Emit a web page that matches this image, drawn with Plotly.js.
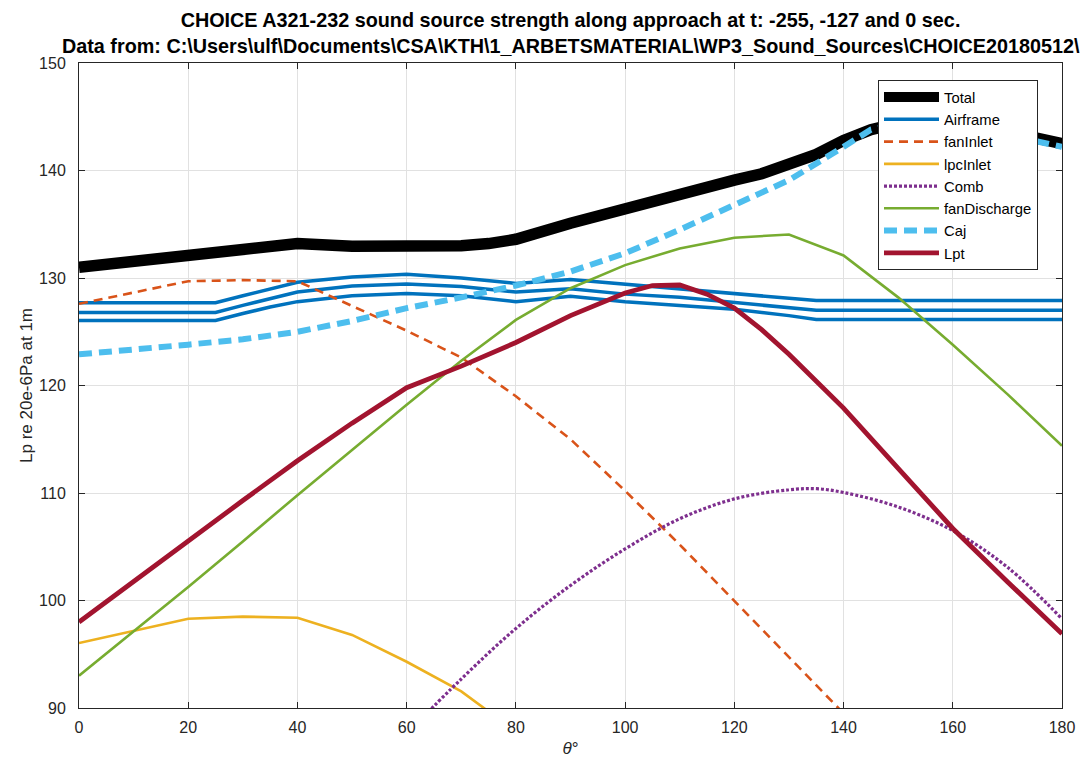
<!DOCTYPE html>
<html>
<head>
<meta charset="utf-8">
<script src="https://cdn.plot.ly/plotly-3.0.1.min.js"></script>
<style>
  html, body { margin: 0; padding: 0; background: #fff; }
  #chart { width: 1086px; height: 763px; }
</style>
</head>
<body>
<div id="chart"></div>
<script>
// Directivity angle (deg) and source levels (dB re 20e-6 Pa at 1 m)
const thetaTotal = [0, 10, 20, 25, 30, 40, 50, 60, 70, 75, 80, 90, 100, 110, 120, 125, 130, 135, 140, 145, 150, 160, 170, 180];
const total = [131.0, 131.6, 132.2, 132.3, 132.7, 133.2, 132.95, 132.85, 133.0, 133.2, 133.6, 135.1, 136.5, 137.8, 139.1, 139.7, 140.6, 141.5, 142.8, 143.8, 144.4, 144.4, 143.6, 142.5];

const thetaAirframe = [0, 25, 30, 35, 40, 50, 60, 70, 80, 90, 100, 110, 120, 130, 135, 180];
const airframeT1 = [127.7, 127.7, 128.35, 129.0, 129.6, 130.1, 130.35, 130.0, 129.5, 129.85, 129.4, 129.0, 128.55, 128.1, 127.9, 127.9];
const airframeT2 = [126.8, 126.8, 127.45, 128.1, 128.7, 129.25, 129.45, 129.2, 128.7, 129.0, 128.5, 128.2, 127.75, 127.25, 127.0, 127.0];
const airframeT3 = [126.05, 126.05, 126.7, 127.3, 127.8, 128.35, 128.55, 128.35, 127.8, 128.3, 127.8, 127.45, 127.1, 126.5, 126.15, 126.15];

const thetaFanInlet = [0, 20, 30, 40, 50, 60, 70, 80, 90, 100, 110, 120, 130, 140];
const fanInlet = [127.6, 129.7, 129.8, 129.7, 127.4, 125.1, 122.6, 119.0, 115.0, 110.2, 105.2, 100.0, 94.8, 89.5];

const thetaLpcInlet = [0, 20, 30, 40, 50, 60, 70, 80];
const lpcInlet = [96.05, 98.3, 98.5, 98.4, 96.8, 94.3, 91.55, 87.8];

const thetaComb = [60, 70, 80, 90, 100, 110, 120, 130, 135, 140, 150, 160, 170, 180];
const comb = [87.6, 92.7, 97.4, 101.4, 104.8, 107.6, 109.45, 110.3, 110.4, 110.05, 108.7, 106.5, 103.1, 98.3];

const thetaFanDischarge = [0, 10, 20, 30, 40, 50, 60, 70, 80, 90, 100, 110, 120, 130, 140, 150, 160, 170, 180];
const fanDischarge = [93.0, 97.1, 101.25, 105.5, 109.8, 114.0, 118.2, 122.3, 126.1, 129.05, 131.2, 132.75, 133.75, 134.05, 132.1, 128.2, 123.8, 119.2, 114.4];

const thetaCaj = [0, 10, 20, 30, 40, 50, 60, 70, 80, 90, 100, 110, 120, 130, 140, 145, 150, 160, 170, 180];
const caj = [122.9, 123.3, 123.8, 124.3, 125.0, 126.0, 127.2, 128.2, 129.3, 130.6, 132.3, 134.5, 136.8, 139.1, 142.2, 143.8, 144.3, 144.2, 143.3, 142.2];

const thetaLpt = [0, 10, 20, 30, 40, 50, 60, 70, 80, 90, 100, 105, 110, 115, 120, 125, 130, 140, 150, 160, 170, 180];
const lpt = [98.0, 101.8, 105.6, 109.3, 113.0, 116.5, 119.8, 121.8, 124.0, 126.5, 128.6, 129.3, 129.35, 128.5, 127.2, 125.2, 122.9, 117.9, 112.3, 106.7, 101.75, 96.9];

const titleLine1 = 'CHOICE A321-232 sound source strength along approach at t: -255, -127 and 0 sec.';
const titleLine2 = 'Data from: C:\\Users\\ulf\\Documents\\CSA\\KTH\\1_ARBETSMATERIAL\\WP3_Sound_Sources\\CHOICE20180512\\';

const FONT = 'Liberation Sans, Arial, Helvetica, sans-serif';
const AXIS_COLOR = '#262626';

function line(x, y, name, color, width, dash, extra) {
  return Object.assign({
    x: x, y: y, name: name, type: 'scatter', mode: 'lines',
    line: { color: color, width: width, dash: dash || 'solid' },
    legendgroup: name, hoverinfo: 'x+y+name'
  }, extra || {});
}

const traces = [
  line(thetaTotal, total, 'Total', '#000000', 11.5),
  line(thetaAirframe, airframeT1, 'Airframe', '#0072BD', 3.5),
  line(thetaAirframe, airframeT2, 'Airframe', '#0072BD', 3.5, null, { showlegend: false }),
  line(thetaAirframe, airframeT3, 'Airframe', '#0072BD', 3.5, null, { showlegend: false }),
  line(thetaFanInlet, fanInlet, 'fanInlet', '#D95319', 2.6, '9px,6px'),
  line(thetaLpcInlet, lpcInlet, 'lpcInlet', '#EDB120', 2.6),
  line(thetaComb, comb, 'Comb', '#7E2F8E', 3.2, null, { line: { color: '#7E2F8E', width: 3.2, dash: '3px,2px', shape: 'spline', smoothing: 1 } }),
  line(thetaFanDischarge, fanDischarge, 'fanDischarge', '#77AC30', 2.6),
  line(thetaCaj, caj, 'Caj', '#4DBEEE', 6, '13px,7px'),
  line(thetaLpt, lpt, 'Lpt', '#A2142F', 4.8)
];

const axisCommon = {
  showgrid: true, gridcolor: '#e1e1e1', gridwidth: 1,
  showline: true, linecolor: AXIS_COLOR, linewidth: 1, mirror: 'ticks',
  ticks: 'inside', ticklen: 6, tickwidth: 1, tickcolor: AXIS_COLOR,
  tickfont: { family: FONT, size: 16, color: AXIS_COLOR },
  zeroline: false, fixedrange: true
};

const layout = {
  width: 1086, height: 763,
  margin: { l: 79, r: 24, t: 63, b: 55 },
  paper_bgcolor: '#ffffff', plot_bgcolor: '#ffffff',
  font: { family: FONT, color: AXIS_COLOR },
  title: {
    text: '<b>' + titleLine1 + '</b>',
    font: { family: FONT, size: 19.8, color: '#000000' },
    x: 0.5, xref: 'paper', xanchor: 'center',
    y: 1 - 20 / 763, yref: 'container', yanchor: 'middle'
  },
  annotations: [{
    text: '<b>' + titleLine2 + '</b>',
    font: { family: FONT, size: 19.8, color: '#000000' },
    x: 0.5, xref: 'paper', xanchor: 'center',
    y: (708 - 46) / 645, yref: 'paper', yanchor: 'middle',
    showarrow: false
  }],
  xaxis: Object.assign({}, axisCommon, {
    range: [0, 180], tick0: 0, dtick: 20, ticklabelstandoff: 5,
    title: { text: '<i>θ</i>°', font: { family: FONT, size: 17, color: AXIS_COLOR }, standoff: 6 }
  }),
  yaxis: Object.assign({}, axisCommon, {
    range: [90, 150], tick0: 90, dtick: 10, ticklabelstandoff: 9,
    title: { text: 'Lp re 20e-6Pa at 1m', font: { family: FONT, size: 17, color: AXIS_COLOR }, standoff: 2 }
  }),
  legend: {
    x: (878 - 79) / 983, xanchor: 'left', xref: 'paper',
    y: (708 - 80) / 645, yanchor: 'top', yref: 'paper',
    bgcolor: '#ffffff', bordercolor: AXIS_COLOR, borderwidth: 1,
    font: { family: FONT, size: 14.8, color: '#000000' },
    itemwidth: 55,
    tracegroupgap: 0, traceorder: 'normal'
  },
  showlegend: true
};

Plotly.newPlot('chart', traces, layout, { displayModeBar: false, staticPlot: true });
</script>
</body>
</html>
